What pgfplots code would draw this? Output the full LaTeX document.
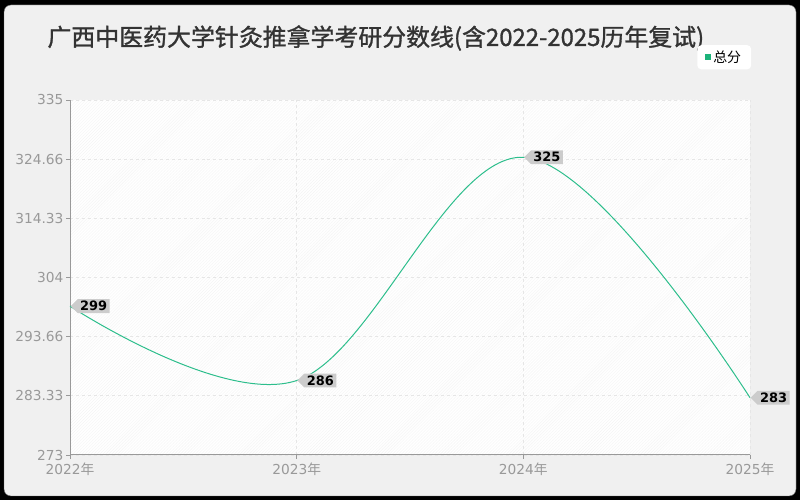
\documentclass[border=0pt]{standalone}
\usepackage{fontspec}
\usepackage{pgfplots}
\pgfplotsset{compat=1.18}
\usetikzlibrary{shapes.symbols,patterns}
\setmainfont{DejaVu Sans}
\newfontfamily\cjk{Noto Sans CJK SC}
\newfontfamily\cjkt[FakeBold=1.2]{Noto Sans CJK SC}
\definecolor{bgc}{HTML}{F0F0F0}
\definecolor{linec}{HTML}{2DBE8C}
\definecolor{legc}{HTML}{1DB37A}
\definecolor{tickc}{HTML}{999999}
\definecolor{gridc}{HTML}{E6E6E6}
\definecolor{labc}{HTML}{CCCCCC}
\begin{document}
\begin{tikzpicture}[x=1bp,y=1bp]
\useasboundingbox (0,0) rectangle (800,500);
\fill[black] (0,0) rectangle (800,500);
\fill[bgc,draw=black!60,rounded corners=7bp] (4,4) rectangle (796,495);
\fill[white] (70,45) rectangle (750,400);
\fill[pattern=north east lines,pattern color=black!4] (70,45) rectangle (750,400);
\node[anchor=west,text=black!80,font=\cjkt\fontsize{24}{28}\selectfont] at (44,462) {广西中医药大学针灸推拿学考研分数线(含2022-2025历年复试)};
\begin{axis}[
    at={(70bp,45bp)}, anchor=south west,
    scale only axis, width=680bp, height=355bp,
    xmin=2022, xmax=2025, ymin=273, ymax=335,
    clip=false,
    axis lines*=left,
    axis line style={tickc,line width=1bp},
    xtick={2022,2023,2024,2025},
    xticklabels={2022{\cjk 年},2023{\cjk 年},2024{\cjk 年},2025{\cjk 年}},
    ytick={273,283.33,293.66,304,314.33,324.66,335},
    yticklabels={273,283.33,293.66,304,314.33,324.66,335},
    tick style={tickc,line width=0.8bp},
    tick align=outside,
    major tick length=4bp,
    ticklabel style={font=\fontsize{13.8}{16}\selectfont,text=tickc},
    xticklabel style={yshift=0bp},
    yticklabel style={xshift=1bp},
    grid=major,
    major grid style={gridc,dashed,line width=0.8bp},
    legend style={at={(1.002,1.155)},anchor=north east,draw=none,fill=white,
        rounded corners=4bp,font=\cjk\fontsize{14}{16}\selectfont,
        inner xsep=8bp,inner ysep=3.5bp},
    legend image code/.code={\fill[legc,sharp corners] (0bp,-2.5bp) rectangle (5bp,2.5bp);},
]
\addplot[color=linec,line width=1bp,smooth,tension=0.6,
    /pgf/number format/assume math mode=true,
    nodes near coords,
    every node near coord/.append style={signal,signal to=west,signal pointer angle=90,
        fill=labc,anchor=west,inner xsep=2.5bp,inner ysep=2bp,text=black,
        font=\bfseries\fontsize{13}{15}\selectfont},
] coordinates {
    (2022,299) (2023,286) (2024,325) (2025,283)
};
\addlegendentry{总分}
\end{axis}
\end{tikzpicture}
\end{document}
